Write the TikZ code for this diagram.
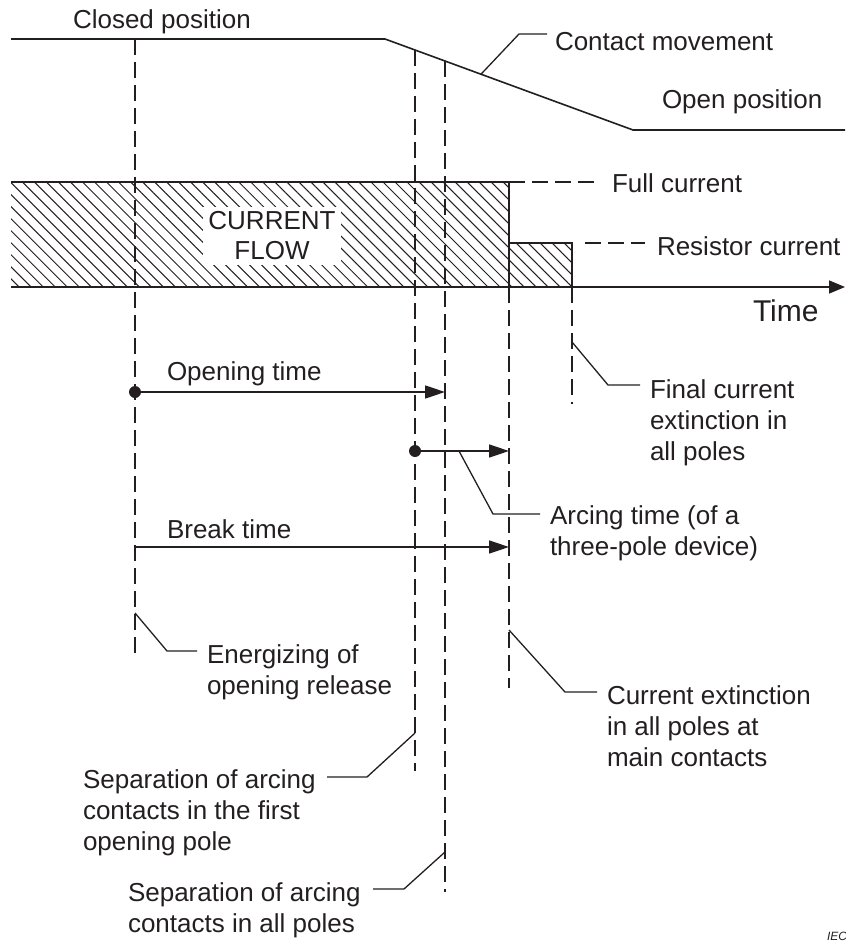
\documentclass[tikz,border=0pt]{standalone}
\usepackage{fontspec}
\setmainfont{Liberation Sans}
\usepackage{xcolor}
\usetikzlibrary{arrows.meta, patterns.meta, positioning}
\definecolor{ink}{HTML}{231F20}

\begin{document}
\begin{tikzpicture}[
    x=1pt, y=-1pt,
    every node/.style={inner sep=0pt, outer sep=0pt, text=ink, font=\fontsize{26}{31}\selectfont},
    tag/.style={align=left, anchor=base west},
    guide/.style={draw=ink, line width=1.6pt, dash pattern=on 16pt off 7pt},
    leader/.style={draw=ink, line width=1.3pt},
    edge/.style={draw=ink, line width=1.6pt},
    hatch/.style={pattern={Lines[angle=-45, distance=8.5pt, line width=1pt]}, pattern color=ink},
    arrow/.style={draw=ink, line width=1.6pt, -{Triangle[length=20pt, width=13pt]}},
    dot/.style={circle, fill=ink, minimum size=12pt}
  ]
    \useasboundingbox (0,0) rectangle (845,941);

    % contact movement curve
    \coordinate (closed_end) at (385,39);
    \coordinate (open_start) at (633,130);
    \draw [edge] (11,39) -- (closed_end) -- (open_start) -- (845,130);

    \node (closed) [tag] at (73,29) {Closed position};
    \node (movement) [tag] at (555,51) {Contact movement};
    \node (open) [tag] at (662,109) {Open position};

    \coordinate (mv_foot) at (481,74.2);
    \coordinate (mv_knee) at (519,34);
    \coordinate (mv_end) at (547,34);
    \draw [leader] (mv_foot) -- (mv_knee) -- (mv_end);

    % current flow
    \fill [hatch] (11,182) rectangle (509,287);
    \fill [hatch] (509,243) rectangle (572,287);
    \node (flow) [fill=white, inner sep=5pt, align=center, font=\fontsize{26}{30}\selectfont] at (272,236) {CURRENT\\FLOW};
    \draw [edge] (11,182) -- (509,182) -- (509,287);
    \draw [edge] (509,243) -- (572,243) -- (572,287);
    \draw [edge, -{Triangle[length=16pt, width=13pt]}] (11,287) -- (845,287);
    \node (time) [tag, font=\fontsize{30}{36}\selectfont] at (753,321) {Time};

    \draw [guide] (509,182) -- (598,182);
    \node (full) [tag] at (612,193) {Full current};
    \draw [guide] (585,243) -- (645,243);
    \node (resistor) [tag] at (657,255) {Resistor current};

    % instants
    \coordinate (trip_top) at (135,39);
    \coordinate (trip_bot) at (135,658);
    \coordinate (first_top) at (415,50);
    \coordinate (first_bot) at (415,771);
    \coordinate (all_top) at (445,61);
    \coordinate (all_bot) at (445,892);
    \coordinate (main_top) at (509,287);
    \coordinate (main_bot) at (509,688);
    \coordinate (final_top) at (572,287);
    \coordinate (final_bot) at (572,404);
    \draw [guide] (trip_top) -- (trip_bot);
    \draw [guide] (first_top) -- (first_bot);
    \draw [guide] (all_top) -- (all_bot);
    \draw [guide] (main_top) -- (main_bot);
    \draw [guide] (final_top) -- (final_bot);

    % intervals
    \node (opening_dot) [dot] at (135,392) {};
    \draw [arrow] (opening_dot.center) -- (all_top |- opening_dot);
    \node (opening) [tag] at (167,380) {Opening time};

    \node (arcing_dot) [dot] at (415,451) {};
    \draw [arrow] (arcing_dot.center) -- (main_top |- arcing_dot);

    \node (break) [tag] at (167,538) {Break time};
    \coordinate (break_start) at (135,547);
    \draw [arrow] (break_start) -- (main_top |- break_start);

    % callouts (base = baseline of last line)
    \node (arcing) [tag] at (550,555) {Arcing time (of a\\three-pole device)};
    \draw [leader] (459,451) -- (493,514) -- (540,514);

    \node (final) [tag] at (650,460) {Final current\\extinction in\\all poles};
    \draw [leader] (572,342) -- (608,385) -- (640,385);

    \node (energizing) [tag] at (207,694) {Energizing of\\opening release};
    \draw [leader] (135,613) -- (167,651) -- (197,651);

    \node (extinction) [tag] at (607,766) {Current extinction\\in all poles at\\main contacts};
    \draw [leader] (509,630) -- (565,692) -- (597,692);

    \node (sep_first) [tag] at (83,850) {Separation of arcing\\contacts in the first\\opening pole};
    \draw [leader] (415,733) -- (367,777) -- (327,777);

    \node (sep_all) [tag] at (128,932) {Separation of arcing\\contacts in all poles};
    \draw [leader] (445,852) -- (404,889) -- (373,889);

    \node (iec) [anchor=north west, font=\fontsize{12}{14}\itshape] at (827,932) {IEC};
\end{tikzpicture}
\end{document}
